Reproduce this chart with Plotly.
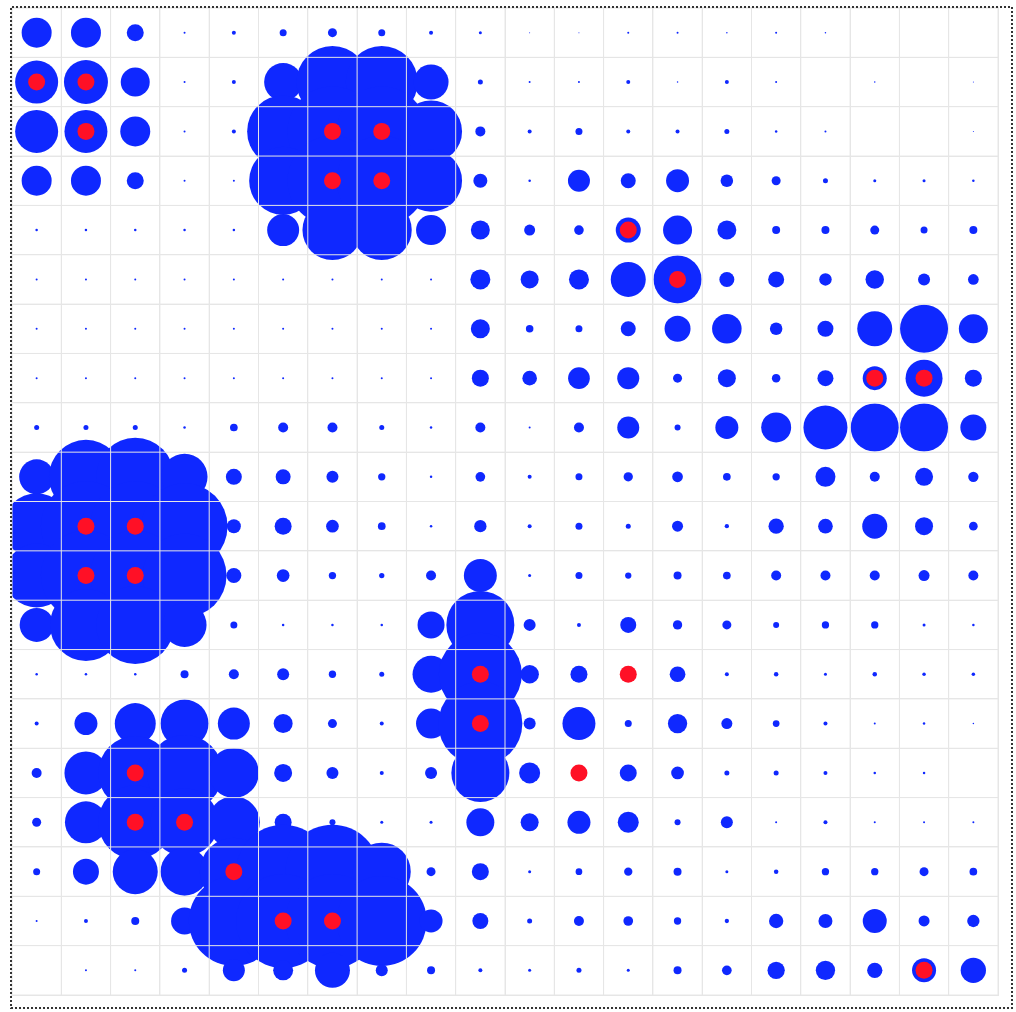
import plotly.graph_objects as go

# Column / row indices of the 20 x 20 grid
col_index = list(range(20))
row_index = list(range(20))

# Bubble values (marker diameter) for each row, left to right
row00 = [30, 30, 17, 2, 4, 7, 9, 7, 4, 3, 1, 1, 2, 2, 1.5, 2, 1.5, 0, 0, 0]
row01 = [43, 44, 29, 2, 4, 38, 72, 72, 35, 5, 2, 2, 4, 1.5, 4, 2, 0, 1.5, 0, 1]
row02 = [43, 43, 30, 2, 4, 72, 90, 90, 62, 10, 4, 7, 4, 4, 5, 2.5, 2, 0, 0, 1]
row03 = [30, 30, 17, 2, 2, 68, 90, 90, 62, 14, 2.5, 22, 15, 23, 12.5, 9, 5, 3, 3, 2.5]
row04 = [2.5, 2.5, 2.5, 2.5, 2.5, 32, 60, 60, 30, 19, 11, 9.6, 25, 29, 19, 8, 8, 9, 7, 8]
row05 = [2, 2, 2, 2, 2, 2, 2, 2, 2, 20, 18, 20, 35, 48, 15, 16, 12.5, 18.5, 12, 10.7]
row06 = [2, 2, 2, 2, 2, 2, 2, 2, 2, 19, 7.5, 7, 15, 26, 29.5, 12.5, 16, 35, 48, 29]
row07 = [2, 2, 2, 2, 2, 2, 2, 2, 2, 17, 14.6, 21.7, 22, 9, 18, 8.5, 16, 24, 37, 17]
row08 = [5, 5, 5, 2.5, 7.7, 10, 10, 5, 2.5, 10, 2, 10, 22, 6, 23, 30, 44, 48, 48, 26]
row09 = [35, 74, 78, 46, 16, 15, 12, 7.3, 2.5, 9.7, 4, 7, 9.3, 10.7, 7.7, 7.3, 20, 10, 18, 10.3]
row10 = [66, 90, 90, 86, 14, 17, 12.7, 7.7, 2.5, 12.3, 4, 7, 5, 11, 4.3, 15.3, 14.7, 25, 18, 8.7]
row11 = [64, 90, 90, 84, 15, 12.7, 7.3, 5.3, 10, 33, 3, 7, 6.3, 8, 7.7, 10, 10, 10, 11, 10]
row12 = [34, 72, 78, 44, 7, 2.5, 2.5, 2.5, 27, 68, 12, 4, 16, 9.3, 9, 6, 7.3, 7.3, 3, 2.5]
row13 = [2.5, 2.5, 2.5, 8, 10, 12, 7.3, 5, 37, 83, 18.5, 17, 10, 15.7, 4, 4.5, 3, 4.5, 3.5, 3.5]
row14 = [4, 23, 41, 48, 32, 19, 9, 4, 30, 84, 12, 33, 7, 19.3, 11, 6.7, 4, 2, 2.5, 1.5]
row15 = [10, 43, 74, 76, 50, 18, 12, 4, 12, 58, 21, 12, 17, 12.7, 5, 5, 4, 2.5, 2.5, 0]
row16 = [9, 42, 74, 68, 52, 17, 6, 3, 3, 28, 18, 23, 21, 6, 12, 2, 4, 2, 2, 2]
row17 = [7, 26, 45, 48, 68, 94, 94, 58, 9, 17, 3, 6.7, 8.3, 8, 3, 4.5, 7.3, 7.3, 9, 7.7]
row18 = [2, 4, 8, 27, 90, 94, 94, 90, 23, 16, 5, 10, 9.7, 7.3, 4.3, 14.3, 14, 24, 11, 12.3]
row19 = [0, 2, 2, 5, 22, 20, 35, 12, 8, 4, 3, 5, 3, 8, 9.7, 17.3, 19.3, 15.3, 24, 25.3]

size_rows = [row00, row01, row02, row03, row04, row05, row06, row07, row08, row09,
             row10, row11, row12, row13, row14, row15, row16, row17, row18, row19]

# Highlighted (red) cells
red_rows = [1, 1, 2, 2, 2, 3, 3, 4, 5, 7, 7, 10, 10, 11, 11, 13, 13, 14, 15, 15, 16, 16, 17, 18, 18, 19]
red_cols = [0, 1, 1, 6, 7, 6, 7, 12, 13, 17, 18, 1, 2, 1, 2, 9, 12, 9, 2, 11, 2, 3, 4, 5, 6, 18]

BLUE = "#0f28ff"
RED = "#ff1026"
GRID = "#e6e6e6"

bx, by, bs = [], [], []
for r in row_index:
    for c in col_index:
        bx.append(c + 0.5)
        by.append(r + 0.5)
        bs.append(size_rows[r][c])

fig = go.Figure()
fig.add_trace(go.Scatter(
    x=bx, y=by, mode="markers",
    marker=dict(size=bs, sizemode="diameter", sizeref=1, color=BLUE,
                line=dict(width=0), opacity=1),
    hoverinfo="skip", cliponaxis=True,
))
fig.add_trace(go.Scatter(
    x=[c + 0.5 for c in red_cols], y=[r + 0.5 for r in red_rows], mode="markers",
    marker=dict(size=17, color=RED, line=dict(width=0)),
    hoverinfo="skip", cliponaxis=True,
))

axis_common = dict(
    tick0=0, dtick=1, showticklabels=False, ticks="",
    showgrid=True, gridcolor=GRID, gridwidth=1,
    zeroline=False, layer="above traces",
    showline=True, mirror=True, linecolor=GRID, linewidth=1,
    fixedrange=True,
)

# Grid lines redrawn above the bubbles (cell boundaries)
shapes = []
for v in range(len(col_index) + 1):
    shapes.append(dict(type="line", xref="x", yref="paper", x0=v, x1=v, y0=0, y1=1,
                       line=dict(color=GRID, width=1), layer="above"))
for v in range(len(row_index) + 1):
    shapes.append(dict(type="line", xref="paper", yref="y", x0=0, x1=1, y0=v, y1=v,
                       line=dict(color=GRID, width=1), layer="above"))
shapes.append(dict(
    type="rect", xref="paper", yref="paper",
    x0=-0.001, x1=1.0142, y0=-0.0132, y1=1.001,
    line=dict(color="#333333", width=2, dash="2px,2px"),
    fillcolor="rgba(0,0,0,0)", layer="above",
))

fig.update_layout(
    width=1016, height=1012,
    margin=dict(l=12, r=18, t=8, b=17, pad=0),
    paper_bgcolor="white", plot_bgcolor="white",
    showlegend=False,
    xaxis=dict(range=[0, 20], **axis_common),
    yaxis=dict(range=[20, 0], **axis_common),
    shapes=shapes,
)

fig.write_html("out.html")
